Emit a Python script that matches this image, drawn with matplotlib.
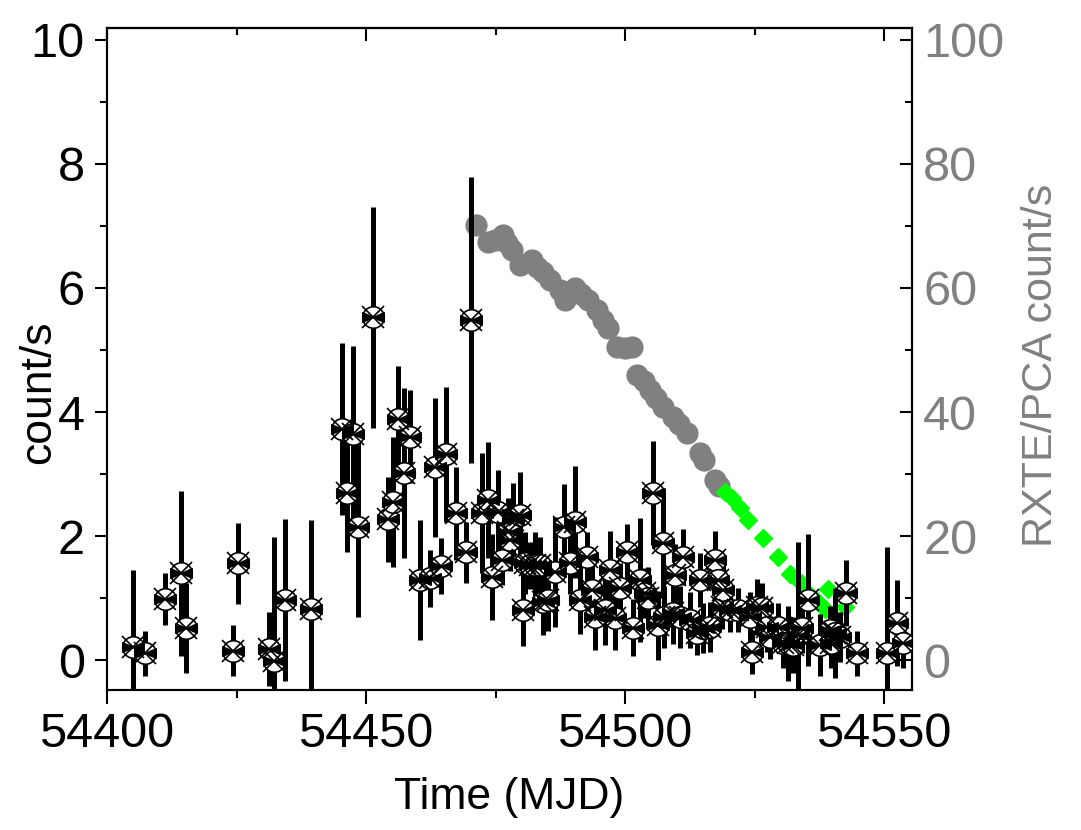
import numpy as np
import matplotlib
matplotlib.use('Agg')
from matplotlib import pyplot as plt
from matplotlib.path import Path

plt.rcParams['font.family'] = ['Liberation Sans', 'DejaVu Sans']

# Swift light curve (left axis)
swift_t = [54405.0, 54407.3, 54411.2, 54414.3, 54415.3, 54424.3, 54425.3, 54431.3, 54432.2, 54434.4,
           54439.4, 54445.4, 54446.3, 54447.5, 54448.5, 54451.4, 54454.2, 54455.2, 54456.2, 54457.3,
           54458.5, 54460.4, 54462.4, 54463.3, 54464.5, 54465.4, 54467.4, 54469.3, 54470.3, 54472.4,
           54473.6, 54474.3, 54475.5, 54476.3, 54477.4, 54477.8, 54478.4, 54479.7, 54480.3, 54480.7,
           54481.7, 54482.6, 54483.6, 54484.2, 54485.1, 54486.5, 54488.2, 54490.3, 54489.4, 54491.3,
           54492.7, 54493.6, 54494.2, 54496.1, 54497.1, 54498.1, 54499.0, 54500.4, 54501.5, 54502.9,
           54503.9, 54504.4, 54505.4, 54506.4, 54507.3, 54507.6, 54509.3, 54509.7, 54510.6, 54511.2,
           54512.5, 54513.9, 54514.5, 54515.1, 54516.4, 54517.4, 54518.0, 54518.7, 54518.9, 54520.3,
           54521.8, 54524.1, 54524.5, 54525.5, 54526.4, 54527.4, 54528.0, 54529.5, 54530.5, 54531.5,
           54532.4, 54533.4, 54534.2, 54535.3, 54537.6, 54539.6, 54539.8, 54540.5, 54541.5, 54542.7,
           54544.8, 54550.6, 54552.5, 54553.7]
swift_rate = [0.21, 0.11, 0.98, 1.40, 0.52, 0.15, 1.56, 0.18, -0.02, 0.97,
              0.82, 3.73, 2.70, 3.65, 2.15, 5.53, 2.27, 2.55, 3.89, 3.02,
              3.60, 1.29, 1.32, 3.11, 1.52, 3.32, 2.37, 1.74, 5.48, 2.37,
              2.58, 1.34, 2.39, 1.61, 2.06, 1.94, 2.26, 2.34, 0.81, 1.56,
              1.53, 1.53, 1.53, 0.94, 0.97, 1.42, 2.14, 2.23, 1.56, 0.97,
              1.66, 1.13, 0.70, 0.81, 1.45, 0.68, 1.16, 1.74, 0.52, 1.29,
              1.08, 1.00, 2.69, 0.56, 1.89, 0.70, 0.76, 1.37, 0.70, 1.66,
              0.65, 0.44, 1.29, 0.52, 0.53, 1.61, 1.29, 0.86, 1.13, 0.81,
              0.81, 0.70, 0.13, 0.86, 0.84, 0.53, 0.37, 0.53, 0.27, 0.27,
              0.24, 0.40, 0.52, 0.97, 0.24, 0.48, 0.27, 0.44, 0.37, 1.08,
              0.11, 0.11, 0.60, 0.27]
swift_err = [1.24, 0.36, 0.42, 1.33, 0.72, 0.41, 0.65, 0.60, 2.00, 1.30,
             1.44, 1.39, 0.95, 1.42, 1.45, 1.78, 0.68, 1.05, 0.85, 1.37,
             0.75, 0.97, 0.46, 1.12, 0.45, 1.09, 0.75, 0.49, 2.30, 0.97,
             0.94, 0.70, 0.68, 0.40, 0.56, 0.50, 0.60, 0.70, 0.58, 0.50,
             0.38, 0.54, 0.45, 0.53, 0.50, 0.88, 0.70, 0.90, 0.50, 0.55,
             0.40, 0.45, 0.53, 0.56, 0.63, 0.52, 0.40, 0.46, 0.46, 1.00,
             0.40, 0.50, 0.84, 0.56, 0.88, 0.50, 0.50, 0.50, 0.50, 0.45,
             0.45, 0.35, 0.43, 0.40, 0.40, 0.48, 0.40, 0.35, 0.40, 0.35,
             0.35, 0.40, 0.35, 0.45, 0.40, 0.40, 0.35, 0.39, 0.40, 0.60,
             0.45, 1.50, 0.40, 1.07, 0.50, 0.40, 0.40, 0.73, 0.40, 0.53,
             0.36, 1.71, 0.70, 0.40]

# RXTE/PCA (right axis)
pca_t = [54471.2, 54473.6, 54474.8, 54476.4, 54477.3, 54478.2, 54479.7, 54482.0, 54483.0, 54484.2,
         54485.5, 54487.5, 54488.4, 54490.3, 54491.5, 54492.9, 54494.6, 54495.8, 54496.7, 54498.5,
         54500.0, 54501.4, 54502.3, 54503.6, 54504.8, 54506.0, 54507.3, 54509.3, 54510.5, 54512.0,
         54514.5, 54515.3, 54517.4, 54518.2]
pca_rate = [70.2, 67.4, 67.8, 68.5, 67.3, 66.1, 63.7, 64.5, 63.4, 62.6,
            61.3, 59.7, 58.1, 60.0, 59.0, 58.1, 56.5, 54.8, 53.5, 50.5,
            50.3, 50.5, 46.0, 45.0, 43.5, 42.2, 40.8, 39.2, 38.0, 36.6,
            33.4, 32.3, 29.0, 28.0]
green_t = [54519.3, 54520.7, 54522.2, 54523.7, 54526.6, 54529.5, 54531.9, 54534.0, 54535.5, 54537.1,
           54538.6, 54539.2, 54542.5]
green_rate = [27.1, 26.1, 24.5, 22.6, 19.7, 16.6, 13.9, 12.4, 10.6, 9.5,
              8.2, 11.5, 8.5]

# bow-tie inner mark of the Swift symbol
bowtie = Path([(-1, -0.45), (0, 0), (-1, 0.45), (-1, -0.45),
               (1, 0.45), (0, 0), (1, -0.45), (1, 0.45)],
              [Path.MOVETO, Path.LINETO, Path.LINETO, Path.CLOSEPOLY,
               Path.MOVETO, Path.LINETO, Path.LINETO, Path.CLOSEPOLY])

fig = plt.figure(figsize=(10.81, 8.30), dpi=100)
ax = fig.add_axes([0.099, 0.1687, 0.7447, 0.7976])
ax2 = ax.twinx()

ax2.plot(pca_t, pca_rate, 'o', color='#808080', markersize=15, mec='#808080', zorder=1)
ax2.plot(green_t, green_rate, 'D', color='#00ff00', markersize=9.5, mec='#00ff00', zorder=3)

ax.set_zorder(ax2.get_zorder() + 1)
ax.patch.set_visible(False)

ax.errorbar(swift_t, swift_rate, yerr=swift_err, fmt='none', ecolor='black', elinewidth=3.6, capsize=0, zorder=2)
ax.plot(swift_t, swift_rate, 'o', markersize=15.5, mfc='white', mec='black', mew=1.2, zorder=3)
ax.plot(swift_t, swift_rate, marker=bowtie, linestyle='none', markersize=15.5, color='black', zorder=4)
ax.plot(swift_t, swift_rate, 'x', markersize=16, color='black', mew=1.2, zorder=5)

ax.set_xlim(54400, 54555.4)
ax.set_ylim(-0.48, 10.19)
ax2.set_ylim(-4.8, 101.9)

ax.set_xticks([54400, 54450, 54500, 54550])
ax.set_xticks(np.arange(54425, 54555, 50), minor=True)
ax.set_yticks([0, 2, 4, 6, 8, 10])
ax.set_yticks([1, 3, 5, 7, 9], minor=True)
ax2.set_yticks([0, 20, 40, 60, 80, 100])
ax2.set_yticks([10, 30, 50, 70, 90], minor=True)

# top axis: inward ticks, no labels
top = ax.secondary_xaxis('top')
top.set_xticks([54400, 54450, 54500, 54550])
top.set_xticks(np.arange(54425, 54555, 50), minor=True)
top.tick_params(which='major', direction='in', length=9, width=1.5, labeltop=False)
top.tick_params(which='minor', direction='in', length=5, width=1.5)
top.spines['top'].set_linewidth(1.5)

ax.tick_params(axis='x', which='major', direction='out', length=10, width=1.5, labelsize=35, pad=6)
ax.tick_params(axis='x', which='minor', direction='out', length=6, width=1.5)
ax.tick_params(axis='y', which='major', direction='out', length=9, width=1.5, labelsize=35, pad=7)
ax.tick_params(axis='y', which='minor', direction='out', length=5, width=1.5)
ax2.tick_params(axis='y', which='major', direction='in', length=9, width=1.5, labelsize=35, pad=8,
                labelcolor='#808080')
ax2.tick_params(axis='y', which='minor', direction='in', length=5, width=1.5)

for a in (ax, ax2):
    for s in a.spines.values():
        s.set_linewidth(1.5)

ax.set_xlabel('Time (MJD)', fontsize=32, labelpad=14)
ax.set_ylabel('count/s', fontsize=32)
ax.yaxis.set_label_coords(-0.06, 0.45)
ax2.set_ylabel('RXTE/PCA count/s', fontsize=31, color='#808080', rotation=90)
ax2.yaxis.set_label_coords(1.135, 0.49)

fig.savefig('out.png', dpi=100)
